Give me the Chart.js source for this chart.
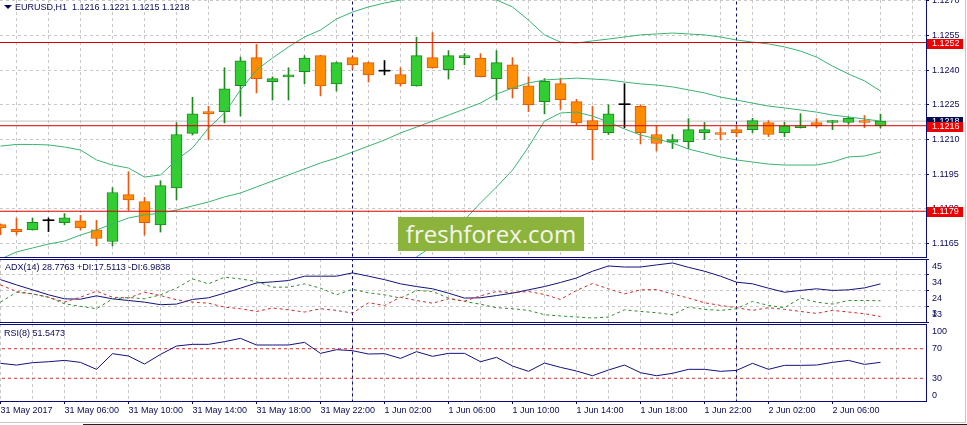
<!DOCTYPE html>
<html><head><meta charset="utf-8">
<script src="https://cdn.jsdelivr.net/npm/chart.js@4.4.1/dist/chart.umd.min.js"></script>
<style>
html,body{margin:0;padding:0;background:#fff;}
#wrap{position:relative;width:967px;height:425px;overflow:hidden;background:#fff;font-family:'Liberation Sans',Arial,sans-serif;}
#wrap canvas{position:absolute;left:0;}
.lbl{position:absolute;font-size:9px;color:#0a0a5c;white-space:pre;line-height:11px;}
#tri{position:absolute;left:4px;top:5px;width:0;height:0;border-left:4px solid transparent;border-right:4px solid transparent;border-top:4px solid #0a0a5c;}
#wm{position:absolute;left:398px;top:217px;width:186px;height:34px;background:#8cb43c;color:#f6f6ee;font-family:'Open Sans',sans-serif;font-size:24px;line-height:34px;text-align:center;}
.fr{position:absolute;}
</style></head><body>
<div id="wrap">
<canvas id="cMain" width="967" height="258" style="top:0px"></canvas>
<canvas id="cAdx" width="967" height="64" style="top:259px"></canvas>
<canvas id="cRsi" width="967" height="101" style="top:324px"></canvas>
<div id="tri"></div>
<div class="lbl" id="tMain" style="left:15px;top:2px"></div>
<div class="lbl" id="tAdx" style="left:5px;top:262px"></div>
<div class="lbl" id="tRsi" style="left:4px;top:328px"></div>
<div id="wm">freshforex.com</div>
<div class="fr" style="left:0;top:422px;width:965px;height:1px;background:#c8c8c8"></div>
<div class="fr" style="left:83px;top:424px;width:884px;height:1px;background:#202020"></div>
<div class="fr" style="left:965px;top:0;width:1px;height:423px;background:#c8c8c8"></div>
</div>
<script>
// ---------- DATA ----------
const symbol = 'EURUSD,H1';
const startHour = 2; // first bar: 31 May 2017 02:00
const timeLabels = ['31 May 2017','31 May 06:00','31 May 10:00','31 May 14:00','31 May 18:00','31 May 22:00','1 Jun 02:00','1 Jun 06:00','1 Jun 10:00','1 Jun 14:00','1 Jun 18:00','1 Jun 22:00','2 Jun 02:00','2 Jun 06:00'];

const open  = [1.11732,1.11712,1.11709,1.11749,1.11741,1.11749,1.11710,1.11659,1.11862,1.11832,1.11731,1.11891,1.12127,1.12221,1.12221,1.12333,1.12455,1.12351,1.12371,1.12394,1.12463,1.12341,1.12455,1.12433,1.12396,1.12381,1.12332,1.12455,1.12403,1.12455,1.12453,1.12364,1.12424,1.12333,1.12264,1.12342,1.12264,1.12182,1.12130,1.12251,1.12244,1.12122,1.12089,1.12091,1.12130,1.12130,1.12143,1.12143,1.12174,1.12130,1.12152,1.12174,1.12174,1.12174,1.12182,1.1216];
const high  = [1.11736,1.11760,1.11761,1.11761,1.11780,1.11772,1.11751,1.11892,1.11961,1.11850,1.11922,1.12173,1.12283,1.12244,1.12411,1.12457,1.12512,1.12372,1.12411,1.12463,1.12465,1.12436,1.12459,1.12436,1.12442,1.12411,1.12543,1.12563,1.12485,1.12472,1.12472,1.12485,1.12455,1.12372,1.12364,1.12366,1.12274,1.12244,1.12251,1.12342,1.12251,1.12159,1.12122,1.12191,1.12174,1.12152,1.12159,1.12192,1.12182,1.12174,1.12212,1.12191,1.12183,1.12198,1.12204,1.1221];
const low   = [1.11689,1.11689,1.11708,1.11702,1.11731,1.11709,1.11640,1.11640,1.11793,1.11687,1.11700,1.11839,1.12120,1.12100,1.12172,1.12202,1.12302,1.12271,1.12271,1.12342,1.12289,1.12310,1.12404,1.12349,1.12380,1.12332,1.12331,1.12409,1.12362,1.12424,1.12371,1.12271,1.12280,1.12221,1.12211,1.12231,1.12162,1.12012,1.12122,1.12152,1.12081,1.12051,1.12061,1.12061,1.12100,1.12100,1.12113,1.12130,1.12113,1.12113,1.12150,1.12152,1.12143,1.12166,1.12152,1.1215];
const close = [1.11718,1.11702,1.11742,1.11749,1.11762,1.11718,1.11672,1.11871,1.11839,1.11741,1.11901,1.12122,1.12212,1.12211,1.12320,1.12441,1.12364,1.12364,1.12380,1.12453,1.12332,1.12433,1.12423,1.12380,1.12396,1.12341,1.12463,1.12410,1.12463,1.12463,1.12372,1.12433,1.12320,1.12251,1.12352,1.12273,1.12172,1.12143,1.12212,1.12251,1.12130,1.12083,1.12100,1.12143,1.12143,1.12122,1.12130,1.12182,1.12122,1.12160,1.12160,1.12160,1.12182,1.12192,1.12174,1.1218];

const bbUpper  = [1.12072,1.12079,1.12079,1.12077,1.12068,1.12055,1.12012,1.11990,1.11977,1.11938,1.11947,1.12012,1.12064,1.12150,1.12215,1.12315,1.12401,1.12453,1.12501,1.12544,1.12574,1.12622,1.12652,1.12674,1.12691,1.12704,1.12713,1.12717,1.12717,1.12717,1.12713,1.12704,1.12674,1.12617,1.12553,1.12522,1.12518,1.12527,1.12535,1.12544,1.12553,1.12557,1.12561,1.12557,1.12553,1.12544,1.12531,1.12522,1.12514,1.12501,1.12483,1.12457,1.12418,1.12384,1.12354,1.12310];
const bbMiddle = [1.11583,1.11614,1.11631,1.11648,1.11661,1.11687,1.11709,1.11735,1.11761,1.11774,1.11782,1.11795,1.11813,1.11830,1.11852,1.11869,1.11895,1.11921,1.11947,1.11973,1.11999,1.12020,1.12046,1.12072,1.12098,1.12129,1.12154,1.12180,1.12206,1.12232,1.12258,1.12297,1.12323,1.12345,1.12358,1.12362,1.12366,1.12362,1.12358,1.12349,1.12341,1.12336,1.12328,1.12315,1.12302,1.12284,1.12271,1.12258,1.12245,1.12237,1.12228,1.12219,1.12206,1.12198,1.12189,1.12180];
const bbLower  = [1.1109,1.1115,1.1118,1.1122,1.1125,1.1132,1.1141,1.1148,1.1154,1.1157,1.1156,1.1155,1.1150,1.1145,1.1140,1.1135,1.1139,1.1139,1.1139,1.1140,1.1142,1.1142,1.1144,1.1147,1.1150,1.1155,1.11592,1.11640,1.11696,1.11752,1.11826,1.11895,1.11968,1.12068,1.12180,1.12215,1.12219,1.12202,1.12176,1.12146,1.12120,1.12103,1.12085,1.12059,1.12042,1.12025,1.12012,1.12003,1.11994,1.11990,1.11990,1.11990,1.12003,1.12025,1.12029,1.12046];

const levels = [1.1252, 1.1216, 1.1179];
const priceTicks = [1.1165, 1.1180, 1.1195, 1.1210, 1.1225, 1.1240, 1.1255, 1.1270];

const adx = [31.6,28.1,24.8,21.5,18.8,18.6,20.8,18.8,17.7,16.6,14.9,15.3,18.4,19.5,22.6,25.9,29.4,30.1,31.0,33.9,33.9,33.9,36.1,33.9,31.6,28.8,27.0,25.5,22.6,19.3,19.5,21.0,22.6,24.8,27.0,29.7,32.7,37.2,40.7,40.0,40.0,41.4,42.7,39.8,37.2,33.9,29.9,28.8,25.9,23.2,24.4,25.5,24.4,24.8,26.1,28.7763];
const plusDI = [16.6,23.2,22.1,19.9,15.5,13.8,12.2,18.8,19.7,18.8,21.5,25.9,32.1,28.8,33.2,32.1,30.3,26.6,26.6,28.8,25.9,21.5,25.2,22.8,21.5,19.3,24.4,23.7,19.3,17.1,15.2,12.9,12.2,11.1,8.2,7.4,6.7,6.0,6.7,11.5,10.4,9.6,8.2,13.3,11.8,11.1,12.2,17.1,14.4,12.9,19.3,16.6,15.3,17.7,17.7,17.5113];
const minusDI = [28.1,23.7,22.1,19.9,16.6,19.9,23.9,19.9,19.3,23.2,21.0,18.2,16.6,15.9,13.3,12.2,10.4,12.7,11.5,10.0,12.2,11.1,9.3,16.2,14.4,19.9,17.7,15.9,18.8,17.3,20.8,23.7,22.8,23.7,21.7,18.4,24.4,29.0,25.5,22.1,24.8,25.0,22.1,19.3,16.2,14.4,12.9,11.1,12.9,11.8,10.4,9.1,11.1,10.0,8.9,6.9838];
const adxRange = [3.37, 45.35];

const rsi = [50.2,47.9,51.1,52.4,54.2,51.5,42.1,63.3,60.1,49.3,62.3,73.6,75.9,75.9,79.5,84.0,75.0,75.0,75.0,78.6,63.7,68.7,67.3,62.8,63.3,56.9,66.0,59.7,63.7,63.7,52.4,58.3,46.6,39.4,50.6,44.8,39.8,33.5,41.2,47.9,37.6,33.5,36.7,42.1,42.1,39.4,40.7,50.2,42.1,47.5,47.5,47.9,51.5,54.2,48.8,51.5473];
const rsiLevels = [70, 30];
const rsiTicks = [100, 70, 30, 0];

// ---------- STYLE ----------
const NAVY = '#0b0b78', TXT = '#0a0a5c', GRID = '#c8c8c8';
const FONT = {family: "'Liberation Sans', Arial, sans-serif", size: 9};
const BAR_PX = 16, AXIS_W = 41, CW = 967;
const X_MIN = -0.5 / BAR_PX, X_MAX = X_MIN + (CW - AXIS_W) / BAR_PX;
const n = open.length, last = n - 1;
const hours = open.map((_, i) => (startHour + i) % 24);
const separators = hours.map((h, i) => h === 0 ? i : -1).filter(i => i >= 0);
const gridXs = []; for (let k = 0; k <= Math.floor(X_MAX); k += 2) gridXs.push(k);

document.getElementById('tMain').textContent = symbol + '  ' + [open[last], high[last], low[last], close[last]].map(v => v.toFixed(4)).join(' ');
document.getElementById('tAdx').textContent = 'ADX(14) ' + adx[last].toFixed(4) + ' +DI:' + plusDI[last].toFixed(4) + ' -DI:' + minusDI[last].toFixed(4);
document.getElementById('tRsi').textContent = 'RSI(8) ' + rsi[last].toFixed(4);

const dir = i => close[i] > open[i] ? 1 : (close[i] < open[i] ? -1 : 0);
const FILL = {1: '#32cd32', '-1': '#ff8c00', 0: '#000000'};
const LINE = {1: '#1f8a1f', '-1': '#e8580e', 0: '#000000'};

const noPadV = s => { s.width = AXIS_W; s.paddingTop = 0; s.paddingBottom = 0; };
function xScale(labels) {
  return {
    type: 'linear', min: X_MIN, max: X_MAX, offset: false,
    afterBuildTicks: s => { s.ticks = gridXs.map(v => ({value: v})); },
    afterFit: s => { s.height = labels ? 24 : 1; s.paddingLeft = 0; s.paddingRight = 0; },
    grid: {color: GRID, lineWidth: 1, drawTicks: labels, tickLength: 3, tickBorderDash: [],
      tickColor: c => (c.tick && c.tick.value % 4 === 0 && c.tick.value / 4 < timeLabels.length) ? NAVY : 'rgba(0,0,0,0)'},
    border: {display: true, color: NAVY, width: 1, dash: [3, 3]},
    ticks: {display: labels, autoSkip: false, maxRotation: 0, minRotation: 0, align: 'start', padding: 1, color: TXT, font: FONT,
      callback: v => (v % 4 === 0 && v / 4 < timeLabels.length) ? timeLabels[v / 4] : ''}
  };
}
function vline(x, lo, hi) {
  return {type: 'line', data: [{x: x, y: lo}, {x: x, y: hi}], borderColor: NAVY, borderWidth: 1, borderDash: [3, 3], pointRadius: 0, order: 6, clip: 0};
}
function hline(y, color, dash, order) {
  return {type: 'line', data: [{x: X_MIN - 1, y: y}, {x: X_MAX + 1, y: y}], borderColor: color, borderWidth: 1, borderDash: dash, pointRadius: 0, order: order, clip: 0};
}
function series(arr, color, dash) {
  return {type: 'line', data: arr.map((v, i) => ({x: i, y: v})), borderColor: color, borderWidth: 1, borderDash: dash, pointRadius: 0, tension: 0, order: 1, clip: 0};
}
const topLine = {id: 'topLine', afterDraw(c) {
  const ctx = c.ctx, a = c.chartArea; ctx.save(); ctx.strokeStyle = NAVY; ctx.lineWidth = 1;
  ctx.beginPath(); ctx.moveTo(a.left, a.top + 0.5); ctx.lineTo(a.right + 1, a.top + 0.5); ctx.stroke(); ctx.restore();
}};
const priceBoxes = {id: 'priceBoxes', afterDraw(c) {
  const y = c.scales.y, ctx = c.ctx, x0 = c.chartArea.right + 1;
  ctx.save(); ctx.font = '9px ' + FONT.family; ctx.textBaseline = 'middle'; ctx.textAlign = 'left';
  const box = (v, bg) => { const py = Math.round(y.getPixelForValue(v));
    ctx.fillStyle = bg; ctx.fillRect(x0, py - 4, 36, 10); ctx.fillStyle = '#ffffff'; ctx.fillText(v.toFixed(4), 932, py + 1); };
  box(close[last], '#0a0a50');
  levels.forEach(v => box(v, '#ee0000'));
  ctx.restore();
}};

const common = {responsive: false, animation: false, events: [], devicePixelRatio: 1,
  layout: {padding: 0, autoPadding: false},
  plugins: {legend: {display: false}, tooltip: {enabled: false}, title: {display: false}}};

// ---------- MAIN ----------
const P_MIN = 1.11592, P_MAX = 1.12704;
new Chart(document.getElementById('cMain'), {
  type: 'bar',
  data: {datasets: [
    hline(close[last], '#c0c0c0', [], 9),
    ...separators.map(s => vline(s, P_MIN - 1, P_MAX + 1)),
    {type: 'bar', data: open.map((o, i) => ({x: i, y: [low[i], high[i]]})), grouped: false, barThickness: 1, borderWidth: 0,
      backgroundColor: c => LINE[dir(c.dataIndex)], order: 5, clip: 0},
    {type: 'bar', data: open.map((o, i) => ({x: i, y: [o, close[i]]})), grouped: false, barThickness: 11, minBarLength: 1,
      borderSkipped: false, borderWidth: c => dir(c.dataIndex) === 0 ? 0 : 1,
      backgroundColor: c => FILL[dir(c.dataIndex)], borderColor: c => LINE[dir(c.dataIndex)], order: 4, clip: 0},
    series(bbUpper, '#3cb371', []), series(bbMiddle, '#3cb371', []), series(bbLower, '#3cb371', []),
    ...levels.map(v => hline(v, '#d80000', [], 0))
  ]},
  options: {...common,
    scales: {
      x: xScale(false),
      y: {position: 'right', min: P_MIN, max: P_MAX,
        afterFit: noPadV,
        afterBuildTicks: s => { s.ticks = priceTicks.map(v => ({value: v})); },
        grid: {color: GRID, tickLength: 3, tickColor: NAVY, tickBorderDash: []},
        border: {display: true, color: NAVY, dash: [3, 3]},
        ticks: {autoSkip: false, color: TXT, font: FONT, padding: 3, callback: v => v.toFixed(4)}}
    }},
  plugins: [priceBoxes]
});

// ---------- ADX ----------
const adxTicks = [0, 1, 2, 3, 4].map(i => adxRange[1] - i * (adxRange[1] - adxRange[0]) / 4);
new Chart(document.getElementById('cAdx'), {
  type: 'line',
  data: {datasets: [
    ...separators.map(s => vline(s, -100, 200)),
    series(minusDI, '#d02a2a', [3, 3]), series(plusDI, '#2e8b2e', [3, 3]), series(adx, '#12127e', [])
  ]},
  options: {...common,
    scales: {
      x: xScale(false),
      y: {position: 'right', min: adxRange[0], max: adxRange[1],
        afterFit: noPadV,
        afterBuildTicks: s => { s.ticks = adxTicks.map(v => ({value: v})); },
        grid: {color: GRID, tickLength: 3, tickColor: NAVY, tickBorderDash: []},
        border: {display: true, color: NAVY, dash: [3, 3]},
        ticks: {autoSkip: false, color: TXT, font: FONT, padding: 3, labelOffset: 8,
          callback: (v, i) => i === adxTicks.length - 1 ? [String(Math.floor(v)), '', '', ''] : String(Math.floor(v))}}
    }},
  plugins: [topLine]
});

// ---------- RSI ----------
new Chart(document.getElementById('cRsi'), {
  type: 'line',
  data: {datasets: [
    ...separators.map(s => vline(s, -100, 200)),
    ...rsiLevels.map(v => hline(v, '#d43030', [3, 3], 3)),
    series(rsi, '#12127e', [])
  ]},
  options: {...common,
    scales: {
      x: xScale(true),
      y: {position: 'right', min: -0.7, max: 103.4,
        afterFit: noPadV,
        afterBuildTicks: s => { s.ticks = rsiTicks.map(v => ({value: v})); },
        grid: {color: 'rgba(0,0,0,0)', tickLength: 3, tickColor: 'rgba(0,0,0,0)'},
        border: {display: true, color: NAVY},
        ticks: {autoSkip: false, color: TXT, font: FONT, padding: 3,
          callback: v => v === Math.max(...rsiTicks) ? ['', String(v)] : (v === Math.min(...rsiTicks) ? [String(v), ''] : String(v))}}
    }},
  plugins: [topLine]
});
</script>
</body></html>
